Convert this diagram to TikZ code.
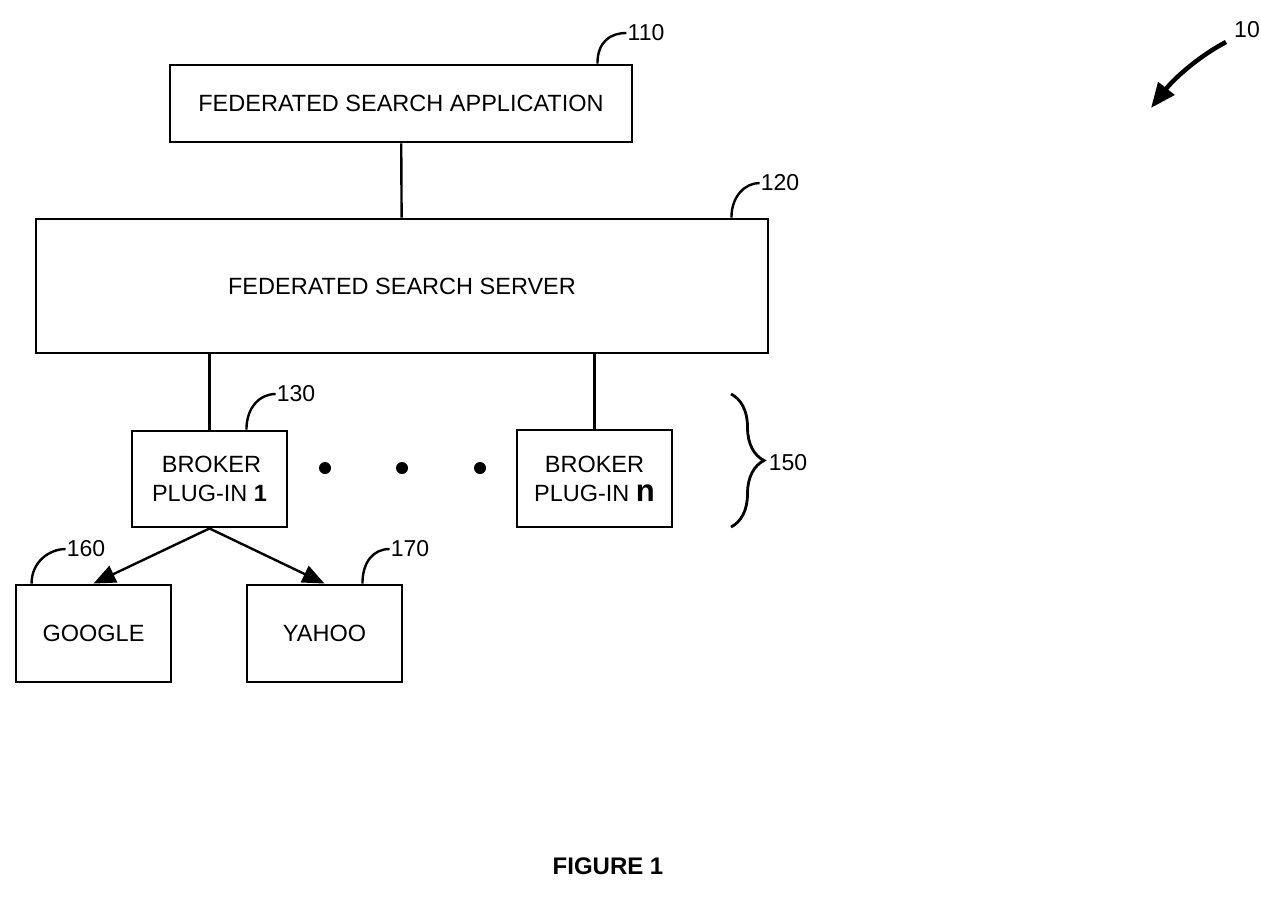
\documentclass[tikz,border=0pt]{standalone}
\usepackage{fontspec}
\setmainfont{Liberation Sans}
\usetikzlibrary{arrows.meta,decorations.pathreplacing}

\begin{document}
\begin{tikzpicture}[x=1pt,y=-1pt,line width=2.4pt,
				box node/.style = {rectangle,draw,line width=2.9pt, inner sep = 0pt, align=center, font=\fontsize{23.5}{29}\selectfont},
				num node/.style = {inner sep = 0pt, font=\fontsize{23}{26}\selectfont},
				dot node/.style = {circle,fill, inner sep = 0pt, minimum size = 12pt},
				arrow line/.style = {-{Triangle[length=22pt,width=18pt]}}]
				
				\useasboundingbox (0,0) rectangle (1261,908);
				
				\node[box node,minimum width=462,minimum height=77] (1) at (401,103.5) {FEDERATED SEARCH APPLICATION};
				\node[box node,minimum width=732,minimum height=134] (2) at (402,286) {FEDERATED SEARCH SERVER};
				\node[box node,minimum width=155,minimum height=96] (3) at (209.5,479) {\,BROKER\\PLUG-IN \textbf{1}};
				\node[box node,minimum width=155,minimum height=97] (4) at (594.5,478.5) {BROKER\\PLUG-IN {\fontsize{31}{29}\selectfont\textbf{n}}};
				\node[box node,minimum width=155,minimum height=97] (5) at (93.5,633.5) {GOOGLE};
				\node[box node,minimum width=155,minimum height=97] (6) at (324.5,633.5) {YAHOO};
				
				\node[dot node] (7) at (325,468) {};
				\node[dot node] (8) at (402,468) {};
				\node[dot node] (9) at (480,468) {};
				
				\node[num node] (11) at (646,33) {110};
				\node[num node] (12) at (780,183) {120};
				\node[num node] (13) at (296,394) {130};
				\node[num node] (15) at (788,463) {150};
				\node[num node] (16) at (86,549) {160};
				\node[num node] (17) at (410,549) {170};
				\node[num node,anchor=east] (10) at (1261,30) {10};
				\node[inner sep = 0pt, font=\fontsize{24}{28}\selectfont\bfseries] (0) at (608,866) {FIGURE 1};
				
				\path (1) edge (2);
				\draw (3.north) -- (3.north |- 2.south);
				\draw (4.north) -- (4.north |- 2.south);
				\draw[arrow line] (3.south) -- (5.north);
				\draw[arrow line] (3.south) -- (6.north);
				
				\draw ([xshift=-36]1.north east) .. controls +(0,-22) and +(-16,0) .. (11.west);
				\draw ([xshift=-38]2.north east) .. controls +(0,-22) and +(-14,0) .. (12.west);
				\draw ([xshift=-42]3.north east) .. controls +(0,-22) and +(-16,0) .. (13.west);
				\draw ([xshift=17]5.north west) .. controls +(0,-22) and +(-16,0) .. (16.west);
				\draw ([xshift=-41]6.north east) .. controls +(0,-22) and +(-16,0) .. (17.west);
				
				\draw[line width=2.8pt,decorate,decoration={brace,amplitude=33pt}] (731,394) -- (731,527);
				
				\coordinate (c10) at (1151,108);
				\draw[line width=4.5pt,-{Triangle[length=25pt,width=20pt]}] (1226,42) .. controls +(-30,16) and +(22,-28) .. (c10);
				
\end{tikzpicture}
\end{document}
